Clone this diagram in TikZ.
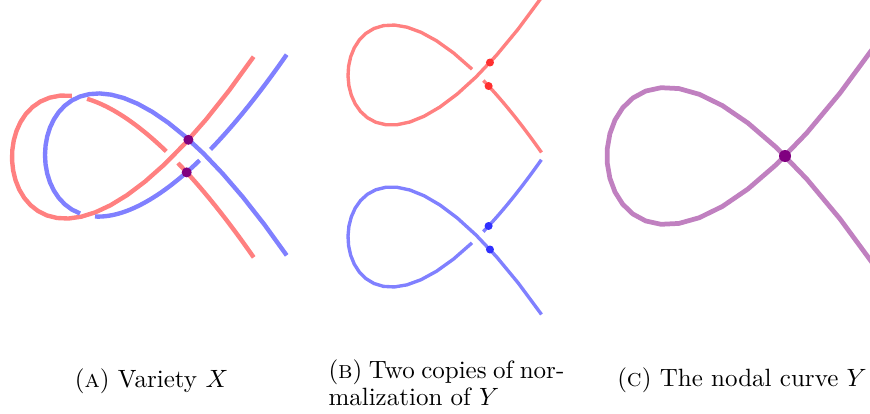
\documentclass[tikz,border=0pt]{standalone}
\usepackage{tikz}
\definecolor{redc}{RGB}{255,128,128}
\definecolor{bluec}{RGB}{128,128,255}
\definecolor{purc}{RGB}{192,128,192}
\definecolor{dotp}{RGB}{128,0,128}
\definecolor{dotr}{RGB}{255,48,48}
\definecolor{dotb}{RGB}{48,48,255}
\newcommand{\ncpiece}[6]{\draw[#1] plot[domain=#5:#6, samples=30] ({#2+#4*(\x*\x-1)},{#3-#4*\x*(\x*\x-1)});}
\tikzset{
  redA/.style={draw=redc, line width=1.75pt},
  blueA/.style={draw=bluec, line width=1.75pt},
  redB/.style={draw=redc, line width=1.35pt},
  blueB/.style={draw=bluec, line width=1.35pt},
  purC/.style={draw=purc, line width=1.9pt},
  captext/.style={font=\fontsize{10}{12}\selectfont, inner sep=0pt}
}
\begin{document}
\begin{tikzpicture}[x=0.4pt,y=-0.4pt]
\useasboundingbox (0,0) rectangle (870,413);
\clip (0,0) rectangle (870,413);
% ---- Panel A ----
\ncpiece{redA}{172}{157}{160}{-1.229}{-1.018}
\ncpiece{redA}{172}{157}{160}{-0.982}{-0.685}
\ncpiece{redA}{172}{157}{160}{-0.612}{1.229}
\ncpiece{blueA}{205}{155}{160}{-1.229}{0.468}
\ncpiece{blueA}{205}{155}{160}{0.559}{0.983}
\ncpiece{blueA}{205}{155}{160}{1.017}{1.229}
\fill[dotp] (188.4,139.8) circle (2pt);
\fill[dotp] (186.7,172.4) circle (2pt);
% ---- Panel B ----
\ncpiece{redB}{478}{75}{130}{-1.22}{-1.02}
\ncpiece{redB}{478}{75}{130}{-0.977}{1.22}
\ncpiece{blueB}{478}{237}{130}{-1.22}{0.977}
\ncpiece{blueB}{478}{237}{130}{1.02}{1.22}
\fill[dotr] ({478+130*(1.045*1.045-1)},{75-130*1.045*(1.045*1.045-1)}) circle (1.6pt);
\fill[dotr] ({478+130*(1.04*1.04-1)},{75+130*1.04*(1.04*1.04-1)}) circle (1.6pt);
\fill[dotb] ({478+130*(1.04*1.04-1)},{237-130*1.04*(1.04*1.04-1)}) circle (1.6pt);
\fill[dotb] ({478+130*(1.045*1.045-1)},{237+130*1.045*(1.045*1.045-1)}) circle (1.6pt);
% ---- Panel C ----
\ncpiece{purC}{785}{156}{178}{-1.229}{1.229}
\fill[dotp] (785,156) circle (2.4pt);
% ---- Captions ----
\node[captext, anchor=base] (capA) at (151.5,387) {(\textsc{a}) Variety $X$};
\node[captext, anchor=base west] (capB1) at (328,378) {\spaceskip=2.6pt(\textsc{b}) Two copies of nor-};
\node[captext, anchor=base west] (capB2) at (328,405) {malization of $Y$};
\node[captext, anchor=base] (capC) at (742,386) {(\textsc{c}) The nodal curve $Y$};
\end{tikzpicture}
\end{document}
